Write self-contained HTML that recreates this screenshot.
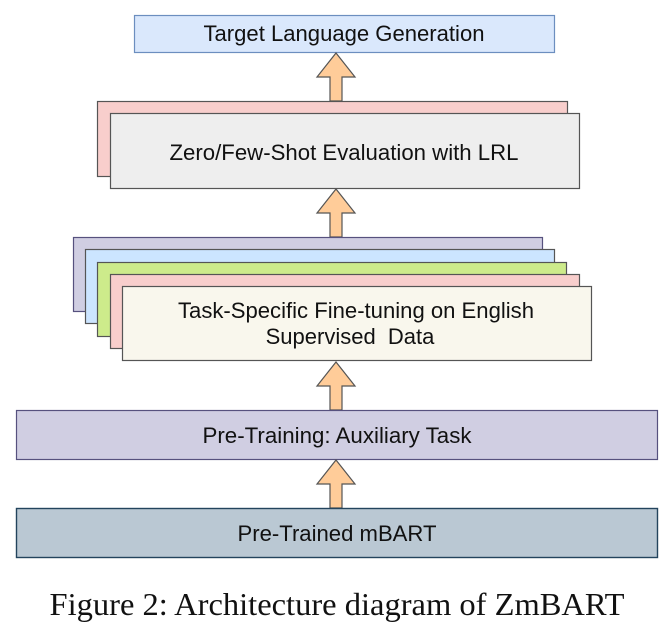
<!DOCTYPE html>
<html><head><meta charset="utf-8"><style>
html,body{margin:0;padding:0;background:#fff;}
svg{display:block}
text{font-family:"Liberation Sans",sans-serif;fill:#111;}
</style></head><body>
<svg width="672" height="640" viewBox="0 0 672 640" xmlns="http://www.w3.org/2000/svg">
<defs>
<polygon id="arr" points="-6,0 -6,-24 -19,-24 0,-48 19,-24 6,-24 6,0" fill="#ffcc99" stroke="#555" stroke-width="1.2"/>
</defs>
<rect x="134.5" y="15.5" width="420" height="37" fill="#dae8fc" stroke="#6c8ebf" stroke-width="1.2"/>
<text x="344" y="41" font-size="22" text-anchor="middle" textLength="281" lengthAdjust="spacingAndGlyphs">Target Language Generation</text>
<use href="#arr" x="336" y="101"/>
<rect x="97.5" y="101.5" width="470" height="75" fill="#f8cecc" stroke="#555" stroke-width="1.2"/>
<rect x="110.5" y="113.5" width="469" height="75" fill="#eeeeee" stroke="#555" stroke-width="1.2"/>
<text x="344" y="160" font-size="22" text-anchor="middle" textLength="349" lengthAdjust="spacingAndGlyphs">Zero/Few-Shot Evaluation with LRL</text>
<use href="#arr" x="336" y="237"/>
<rect x="73.5" y="237.5" width="469" height="74" fill="#d0cee2" stroke="#56517e" stroke-width="1.2"/>
<rect x="85.5" y="249.5" width="469" height="74" fill="#cce5ff" stroke="#555" stroke-width="1.2"/>
<rect x="97.5" y="262.5" width="469" height="74" fill="#cdeb8b" stroke="#555" stroke-width="1.2"/>
<rect x="110.5" y="274.5" width="469" height="74" fill="#f8cecc" stroke="#555" stroke-width="1.2"/>
<rect x="122.5" y="286.5" width="469" height="74" fill="#f9f7ed" stroke="#555" stroke-width="1.2"/>
<text x="356" y="318" font-size="22" text-anchor="middle" textLength="356" lengthAdjust="spacingAndGlyphs">Task-Specific Fine-tuning on English</text>
<text x="350" y="344" font-size="22" text-anchor="middle" xml:space="preserve">Supervised  Data</text>
<use href="#arr" x="336" y="410"/>
<rect x="16.5" y="410.5" width="641" height="49" fill="#d0cee2" stroke="#56517e" stroke-width="1.2"/>
<text x="337" y="443" font-size="22" text-anchor="middle" textLength="269" lengthAdjust="spacingAndGlyphs">Pre-Training: Auxiliary Task</text>
<use href="#arr" x="336" y="508"/>
<rect x="16.5" y="508.5" width="641" height="49" fill="#bac8d3" stroke="#23445d" stroke-width="1.4"/>
<text x="337" y="541" font-size="22" text-anchor="middle" textLength="199" lengthAdjust="spacingAndGlyphs">Pre-Trained mBART</text>
<text x="337" y="615" font-size="32" text-anchor="middle" textLength="575" lengthAdjust="spacingAndGlyphs" style="font-family:'Liberation Serif',serif">Figure 2: Architecture diagram of ZmBART</text>
</svg>
</body></html>
